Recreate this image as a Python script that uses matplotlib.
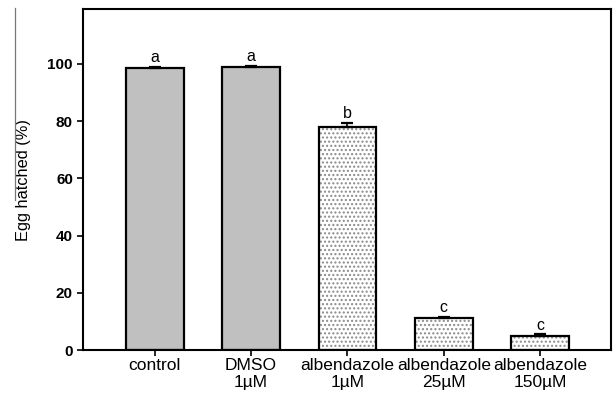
import matplotlib.pyplot as plt
from matplotlib.lines import Line2D

plt.rcParams['font.family'] = ['Liberation Sans', 'DejaVu Sans']
plt.rcParams['hatch.color'] = '#8a8a8a'
plt.rcParams['hatch.linewidth'] = 1.0

groups = ['control', 'DMSO\n1µM', 'albendazole\n1µM', 'albendazole\n25µM', 'albendazole\n150µM']
hatched = [98.5, 98.8, 78.0, 11.1, 4.9]
sem = [0.4, 0.4, 1.5, 0.6, 0.6]
letters = ['a', 'a', 'b', 'c', 'c']
solid = [True, True, False, False, False]

fig = plt.figure(figsize=(6.13, 3.93), dpi=100)
ax = fig.add_axes([0.136, 0.109, 0.86, 0.867])

x = list(range(len(groups)))
for i in x:
    if solid[i]:
        ax.bar(i, hatched[i], width=0.6, color='#c0c0c0', edgecolor='black', linewidth=1.6, zorder=2)
    else:
        ax.bar(i, hatched[i], width=0.6, color='white', edgecolor='#8a8a8a', hatch='....', linewidth=0, zorder=2)
        ax.bar(i, hatched[i], width=0.6, color='none', edgecolor='black', linewidth=1.6, zorder=3)
    ax.errorbar(i, hatched[i], yerr=[[0], [sem[i]]], fmt='none', ecolor='black',
                elinewidth=1.2, capsize=4, capthick=1.6, zorder=4)
    ax.text(i, hatched[i] + sem[i] + 0.6, letters[i], ha='center', va='bottom', fontsize=11.5)

ax.set_xlim(-0.74, 4.73)
ax.set_ylim(0, 119)
ax.set_xticks(x)
ax.set_xticklabels(groups, fontsize=12.5, linespacing=1.1)
ax.set_yticks([0, 20, 40, 60, 80, 100])
ax.set_yticklabels(['0', '20', '40', '60', '80', '100'], fontsize=11, fontweight='bold')
ax.tick_params(axis='both', direction='out', length=4.5, width=1.2, color='black')
ax.tick_params(axis='x', pad=1.5)
ax.tick_params(axis='y', pad=3)
for s in ax.spines.values():
    s.set_linewidth(1.5)
ax.set_ylabel('Egg hatched (%)', fontsize=11.8, labelpad=12)

# thin grey rule at the far left edge
fig.add_artist(Line2D([15 / 613, 15 / 613], [1 - 8 / 393, 1 - 200 / 393],
                      transform=fig.transFigure, color='#777777', linewidth=0.9))

fig.savefig('out.png', dpi=100)
